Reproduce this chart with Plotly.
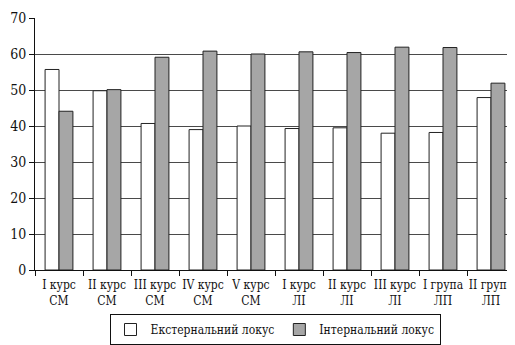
import plotly.graph_objects as go

categories = ["I курс<br>СМ", "II курс<br>СМ", "III курс<br>СМ", "IV курс<br>СМ", "V курс<br>СМ",
              "I курс<br>ЛІ", "II курс<br>ЛІ", "III курс<br>ЛІ", "I група<br>ЛП", "II група<br>ЛП"]
external = [55.7, 49.8, 40.7, 39.0, 40.0, 39.3, 39.5, 38.0, 38.2, 47.9]
internal = [44.1, 50.1, 59.1, 60.8, 60.0, 60.6, 60.4, 61.9, 61.8, 51.9]
y_ticks = [0, 10, 20, 30, 40, 50, 60, 70]

serif = "DejaVu Serif Condensed, DejaVu Serif, serif"
font = dict(family=serif, size=13, color="#111111")

fig = go.Figure()
fig.add_trace(go.Bar(x=categories, y=external, name="Екстернальний локус",
                     marker=dict(color="white", line=dict(color="#222222", width=1))))
fig.add_trace(go.Bar(x=categories, y=internal, name="Інтернальний локус",
                     marker=dict(color="#a6a6a6", line=dict(color="#222222", width=1))))

fig.update_layout(
    width=507, height=337,
    margin=dict(l=27, r=0, t=10, b=75),
    paper_bgcolor="white", plot_bgcolor="white",
    barmode="group", bargap=0.42, bargroupgap=0,
    font=font,
    showlegend=True,
    legend=dict(orientation="h", x=0.5, xanchor="center", y=-0.298, yanchor="bottom",
                bordercolor="#111111", borderwidth=1, font=dict(family=serif, size=12, color="#111111"),
                itemwidth=30, tracegroupgap=0),
    xaxis=dict(type="category", range=[-0.5, 9.5], tickson="boundaries", tickangle=0,
               showgrid=False, ticks="outside", ticklen=5, tickcolor="#111111",
               showline=True, linecolor="#111111", linewidth=1, automargin=False,
               ticklabelstandoff=4,
               tickfont=dict(family=serif, size=12, color="#111111")),
    yaxis=dict(range=[0, 70], tickvals=y_ticks, showgrid=True, gridcolor="#4a4a4a", gridwidth=1,
               ticks="outside", ticklen=5, tickcolor="#111111",
               showline=True, linecolor="#111111", linewidth=1, zeroline=False, automargin=False,
               tickfont=dict(family=serif, size=14, color="#111111")),
)

fig.write_html("out.html")
